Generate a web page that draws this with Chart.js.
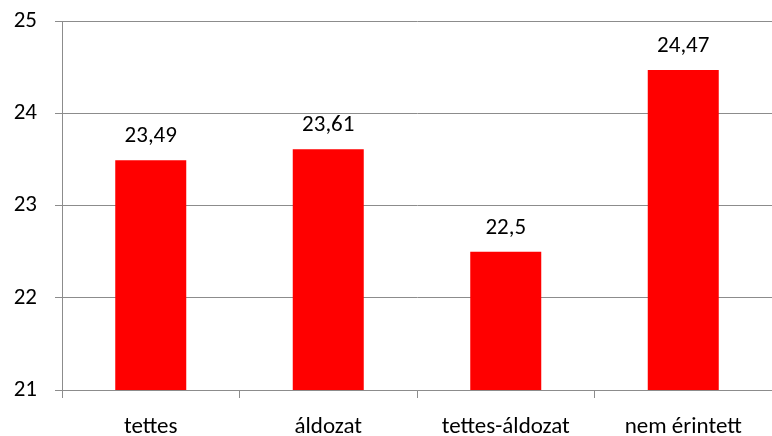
<!DOCTYPE html>
<html>
<head>
<meta charset="utf-8">
<script src="https://cdn.jsdelivr.net/npm/chart.js@4/dist/chart.umd.min.js"></script>
<style>
  html, body { margin: 0; padding: 0; background: #fff; }
  #wrap { width: 772px; height: 436px; }
</style>
</head>
<body>
<div id="wrap"><canvas id="myChart" width="772" height="436"></canvas></div>
<script>
const categories = ['tettes', 'áldozat', 'tettes-áldozat', 'nem érintett']
const values = [23.49, 23.61, 22.5, 24.47]
const yTicks = [21, 22, 23, 24, 25]

const gridColor = '#8c8c8c'
const fontFamily = 'Carlito, Lato, "Liberation Sans", sans-serif'
const fontSize = 23

// value labels above bars, hungarian decimal comma
const valueLabels = {
    id: 'valueLabels',
    afterDatasetsDraw(chart) {
        const ctx = chart.ctx
        const meta = chart.getDatasetMeta(0)
        ctx.save()
        ctx.font = fontSize + 'px ' + fontFamily
        ctx.fillStyle = '#000'
        ctx.textAlign = 'center'
        ctx.textBaseline = 'alphabetic'
        meta.data.forEach(function (bar, i) {
            const txt = String(values[i]).replace('.', ',')
            ctx.fillText(txt, bar.x, bar.y - 18)
        })
        ctx.restore()
    }
}

const data = {
    labels: categories,
    datasets: [{
        data: values,
        backgroundColor: '#ff0000',
        borderWidth: 0,
        categoryPercentage: 1,
        barPercentage: 0.4
    }]
}

const config = {
    type: 'bar',
    data: data,
    options: {
        responsive: false,
        animation: false,
        layout: { padding: { top: 21, right: 0, left: 0, bottom: 0 } },
        plugins: {
            legend: { display: false },
            tooltip: { enabled: false }
        },
        scales: {
            y: {
                min: yTicks[0],
                max: yTicks[yTicks.length - 1],
                afterBuildTicks: function (scale) {
                    scale.ticks = yTicks.map(function (v) { return { value: v } })
                },
                afterFit: function (scale) {
                    scale.width = 62
                    scale.paddingTop = 0
                    scale.paddingBottom = 0
                },
                grid: { color: gridColor, lineWidth: 1, tickLength: 7 },
                border: { color: gridColor, width: 1 },
                ticks: {
                    color: '#000',
                    padding: 18,
                    font: { family: fontFamily, size: fontSize }
                }
            },
            x: {
                afterFit: function (scale) { scale.height = 46 },
                grid: { drawOnChartArea: false, color: gridColor, tickLength: 8, offset: true },
                border: { color: gridColor, width: 1 },
                ticks: {
                    color: '#000',
                    padding: 15,
                    maxRotation: 0,
                    font: { family: fontFamily, size: fontSize }
                }
            }
        }
    },
    plugins: [valueLabels]
}

var myChart = new Chart(
    document.getElementById('myChart'),
    config
)
</script>
</body>
</html>
